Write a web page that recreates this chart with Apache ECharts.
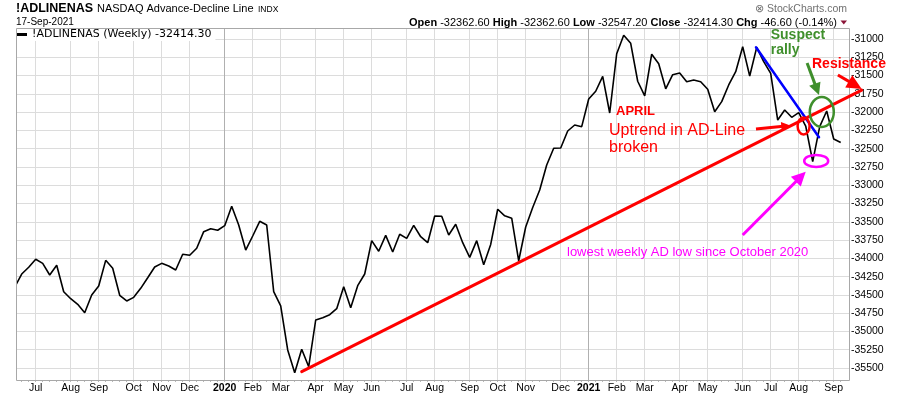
<!DOCTYPE html>
<html><head><meta charset="utf-8">
<script src="https://cdn.jsdelivr.net/npm/echarts@6/dist/echarts.min.js"></script>
<style>html,body{margin:0;padding:0;background:#fff}#c{width:900px;height:396px}</style>
</head><body><div id="c"></div>
<script>
// ---------- data ----------
const firstWeekUTC = [2019, 5, 10];   // Monday of first weekly bar (10 Jun 2019)
const weekCount = 119;
const ad2019 = [-34392,-34214,-34122,-34013,-34068,-34228,-34095,-34456,-34552,-34628,-34743,-34501,-34378,-34027,-34136,-34505,-34583,-34533,-34410,-34265,-34118,-34068,-34104,-34159,-33944,-33958,-33862,-33635,-33594,-33616];
const ad2020 = [-33553,-33288,-33544,-33886,-33694,-33493,-33544,-34456,-34651,-35253,-35564,-35244,-35482,-34843,-34811,-34770,-34688,-34388,-34675,-34374,-34214,-33758,-33903,-33685,-33913,-33671,-33726,-33548,-33704,-33786,-33421,-33425,-33680,-33534,-33786,-33986,-33758,-34087,-33810,-33328,-33418,-33451,-34033,-33571,-33304,-33065,-32723,-32495,-32490,-32258,-32176,-32199];
const ad2021 = [-31821,-31715,-31510,-32012,-31202,-30949,-31059,-31578,-31777,-31208,-31339,-31681,-31488,-31465,-31584,-31561,-31584,-31688,-31994,-31857,-31629,-31447,-31105,-31506,-31114,-31310,-31469,-32108,-31971,-32071,-32008,-32190,-32678,-32199,-31985,-32368,-32414.3];
const monthNames = ['Jan','Feb','Mar','Apr','May','Jun','Jul','Aug','Sep','Oct','Nov','Dec'];
const yearLines = ['2020-01-06','2021-01-04'];
const yTickMin = -35750, yTickMax = -30750, yTickStep = 250;
const plotMin = -35663.5, plotMax = -30849.6;
const seriesName = '!ADLINENAS (Weekly) -32414.30';

// annotations in data space: [week index, value]
const redTrend = [[41, -35550], [121, -31700]];
const blueTrend = [[105.9, -31114], [114.9, -32344]];
const ellipses = [
  {c:[112.7,-32190], rx:6, ry:8.5, color:'#ff0000'},
  {c:[115.3,-31998], rx:12, ry:15, color:'#3f8f2c'},
  {c:[114.5,-32668], rx:12, ry:6, color:'#ff00ff'}
];
const arrows = [
  {p:[[105.9,-32231],[110.8,-32183]], color:'#ff0000', head:9, hw:4.5},
  {p:[[113.2,-31328],[114.9,-31766]], color:'#3f8f2c', head:12, hw:6},
  {p:[[117.6,-31492],[121.0,-31684]], color:'#ff0000', head:15, hw:7},
  {p:[[104.0,-33680],[113.0,-32815]], color:'#ff00ff', head:14, hw:7}
];
const notes = [
  {t:'Suspect', at:[108.0,-30952], color:'#3f8f2c', size:14, bold:true},
  {t:'rally', at:[108.0,-31150], color:'#3f8f2c', size:14, bold:true},
  {t:'Resistance', at:[113.9,-31342], color:'#ff0000', size:14, bold:true},
  {t:'APRIL', at:[85.9,-31985], color:'#ff0000', size:13, bold:true},
  {t:'Uptrend in AD-Line', at:[84.9,-32258], color:'#ff0000', size:16, bold:false},
  {t:'broken', at:[84.9,-32491], color:'#ff0000', size:16, bold:false},
  {t:'lowest weekly AD low since October 2020', at:[78.9,-33913], color:'#ff00ff', size:13, bold:false}
];

// ---------- build ----------
const values = ad2019.concat(ad2020, ad2021);
const weeks = [];
for (let i = 0; i < weekCount; i++) {
  const d = new Date(Date.UTC(firstWeekUTC[0], firstWeekUTC[1], firstWeekUTC[2]) + i * 604800000);
  weeks.push(d.toISOString().slice(0, 10));
}
const isMonthStart = (i) => i > 0 && weeks[i].slice(5,7) !== weeks[i-1].slice(5,7);
const nTicks = Math.round((yTickMax - yTickMin) / yTickStep) + 1;
const splitColors = [];
for (let i = 0; i < nTicks; i++) splitColors.push(i === 0 || i === nTicks - 1 ? 'rgba(0,0,0,0)' : '#dcdcdc');

const FONT = '"Liberation Sans", Arial, sans-serif';
const chart = echarts.init(document.getElementById('c'), null, {renderer: 'canvas'});
const option = {
  animation: false,
  backgroundColor: '#fff',
  legend: {
    left: 16, top: 28, padding: [1, 4, 1, 1], backgroundColor: '#fff',
    icon: 'rect', itemWidth: 10, itemHeight: 3, selectedMode: false,
    textStyle: {fontFamily: '"DejaVu Sans", Verdana, sans-serif', fontSize: 11, color: '#000'},
    data: [seriesName]
  },
  grid: [
    {left: 14.7, right: 59.3, top: 28, bottom: 16},
    {left: 16.7, right: 51, top: 20.72, bottom: 9.72}
  ],
  xAxis: [
    {
      gridIndex: 0, type: 'category', data: weeks, boundaryGap: false,
      axisLine: {show: false},
      axisTick: {show: true, interval: 0, length: 2, lineStyle: {color: '#b8b8b8'}},
      axisLabel: {
        interval: (i) => isMonthStart(i), margin: 3,
        fontFamily: FONT, fontSize: 10.5, color: '#000',
        formatter: (v) => {
          const m = +v.slice(5,7) - 1;
          return m === 0 ? '{y|' + v.slice(0,4) + '}' : monthNames[m];
        },
        rich: {y: {fontWeight: 'bold', fontFamily: FONT, fontSize: 10.5, color: '#000'}}
      },
      splitLine: {show: true, interval: (i) => isMonthStart(i), lineStyle: {color: '#dcdcdc', width: 1}}
    },
    {gridIndex: 1, type: 'value', show: false}
  ],
  yAxis: [
    {gridIndex: 0, type: 'value', min: plotMin, max: plotMax, show: false, splitLine: {show: false}},
    {
      gridIndex: 1, type: 'value', position: 'right', min: yTickMin, max: yTickMax, interval: yTickStep,
      axisLine: {show: false}, axisTick: {show: false},
      axisLabel: {showMinLabel: false, showMaxLabel: false, margin: 2, fontFamily: FONT, fontSize: 10.5, color: '#000',
        formatter: (v) => String(v)},
      splitLine: {show: true, lineStyle: {color: splitColors, width: 1}}
    }
  ],
  series: [{
    name: seriesName, type: 'line', xAxisIndex: 0, yAxisIndex: 0, data: values,
    symbol: 'none', showSymbol: false, z: 5,
    lineStyle: {color: '#000', width: 1.6}, itemStyle: {color: '#000'},
    markLine: {
      silent: true, z: 1, symbol: ['none','none'], label: {show: false},
      lineStyle: {color: '#b0b0b0', type: 'solid', width: 1},
      data: yearLines.map(d => ({xAxis: d}))
    }
  }]
};
chart.setOption(option);

// ---------- graphics (positions via the chart's own scales) ----------
const N = weekCount;
function P(pt) {
  const a = chart.convertToPixel({gridIndex: 0}, [0, pt[1]]);
  const b = chart.convertToPixel({gridIndex: 0}, [N - 1, pt[1]]);
  return [a[0] + (b[0] - a[0]) * pt[0] / (N - 1), a[1]];
}
const g = [];
// white strip left of frame and frame
g.push({type: 'rect', z: 50, shape: {x: 0, y: 26, width: 16.2, height: 358}, style: {fill: '#fff'}});
g.push({type: 'rect', z: 60, shape: {x: 16.5, y: 28.5, width: 833, height: 352}, style: {fill: 'none', stroke: '#a8a8a8', lineWidth: 1}});
// header
g.push({type: 'text', z: 100, x: 16, y: 8.6, style: {text: '!ADLINENAS', fill: '#000', fontFamily: FONT, fontWeight: 'bold', fontSize: 12.5, verticalAlign: 'middle'}});
g.push({type: 'text', z: 100, x: 97, y: 9.1, style: {text: 'NASDAQ Advance-Decline Line', fill: '#000', fontFamily: FONT, fontSize: 11, verticalAlign: 'middle'}});
g.push({type: 'text', z: 100, x: 258, y: 9.9, style: {text: 'INDX', fill: '#000', fontFamily: FONT, fontSize: 8.5, verticalAlign: 'middle'}});
g.push({type: 'text', z: 100, x: 16, y: 22.7, style: {text: '17-Sep-2021', fill: '#000', fontFamily: FONT, fontSize: 10, verticalAlign: 'middle'}});
g.push({type: 'text', z: 100, x: 837, y: 22.5, style: {
  text: '{b|Open} -32362.60 {b|High} -32362.60 {b|Low} -32547.20 {b|Close} -32414.30 {b|Chg} -46.60 (-0.14%)',
  fill: '#000', fontFamily: FONT, fontSize: 11, align: 'right', verticalAlign: 'middle',
  rich: {b: {fontWeight: 'bold', fontFamily: FONT, fontSize: 11, fill: '#000'}}
}});
g.push({type: 'polygon', z: 100, shape: {points: [[840.5,20.5],[847,20.5],[843.75,24.5]]}, style: {fill: '#8b1538'}});
g.push({type: 'text', z: 100, x: 847, y: 9.2, style: {text: '\u2297 StockCharts.com', fill: '#707070', fontFamily: FONT, fontSize: 10.5, align: 'right', verticalAlign: 'middle'}});

// trend lines
function seg(pts, color, w) {
  const a = P(pts[0]), b = P(pts[1]);
  return {type: 'line', z: 100, shape: {x1: a[0], y1: a[1], x2: b[0], y2: b[1]}, style: {stroke: color, lineWidth: w, lineCap: 'round'}};
}
g.push(seg(redTrend, '#ff0000', 3));
g.push(seg(blueTrend, '#0000ff', 2.5));
ellipses.forEach(e => {
  const c = P(e.c);
  g.push({type: 'ellipse', z: 101, shape: {cx: c[0], cy: c[1], rx: e.rx, ry: e.ry}, style: {fill: 'none', stroke: e.color, lineWidth: 2.5}});
});
arrows.forEach(ar => {
  const p1 = P(ar.p[0]), p2 = P(ar.p[1]);
  const dx = p2[0]-p1[0], dy = p2[1]-p1[1], L = Math.hypot(dx, dy), ux = dx/L, uy = dy/L;
  const bx = p2[0] - ux*ar.head, by = p2[1] - uy*ar.head;
  g.push({type: 'line', z: 101, shape: {x1: p1[0], y1: p1[1], x2: bx + ux*2, y2: by + uy*2}, style: {stroke: ar.color, lineWidth: 3}});
  g.push({type: 'polygon', z: 101, shape: {points: [[p2[0], p2[1]], [bx - uy*ar.hw, by + ux*ar.hw], [bx + uy*ar.hw, by - ux*ar.hw]]}, style: {fill: ar.color}});
});
notes.forEach(n => {
  const p = P(n.at);
  g.push({type: 'text', z: 102, x: p[0], y: p[1], style: {text: n.t, fill: n.color, fontFamily: FONT, fontSize: n.size, fontWeight: n.bold ? 'bold' : 'normal', verticalAlign: 'middle', align: 'left'}});
});
chart.setOption({graphic: g});
</script>
</body></html>
